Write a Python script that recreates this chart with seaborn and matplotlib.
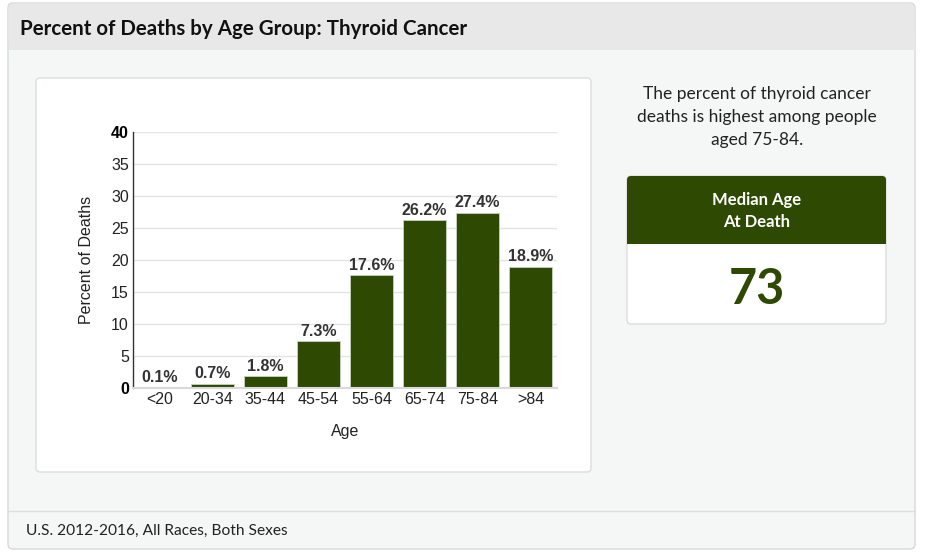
import matplotlib
matplotlib.use('Agg')
import matplotlib.pyplot as plt
import seaborn as sns
from matplotlib.patches import FancyBboxPatch, Rectangle

# Data
ages = ['<20', '20-34', '35-44', '45-54', '55-64', '65-74', '75-84', '>84']
pct_deaths = [0.1, 0.7, 1.8, 7.3, 17.6, 26.2, 27.4, 18.9]
y_ticks = [0, 5, 10, 15, 20, 25, 30, 35, 40]
median_age = 73

green = '#2e4a02'
W, H = 925, 557

sns.set_theme(style='white')
plt.rcParams['font.family'] = ['Liberation Sans', 'DejaVu Sans']

fig = plt.figure(figsize=(W / 100, H / 100), dpi=100)
fig.patch.set_facecolor('white')

# background layer in pixel coordinates
bg = fig.add_axes([0, 0, 1, 1], zorder=0)
bg.set_xlim(0, W)
bg.set_ylim(H, 0)
bg.axis('off')

# outer panel
bg.add_patch(FancyBboxPatch((8, 3), 907, 546, boxstyle='round,pad=0,rounding_size=5',
                            fc='#f5f7f6', ec='#d6d9d7', lw=1))
# header band
bg.add_patch(FancyBboxPatch((8.5, 3.5), 906, 46, boxstyle='round,pad=0,rounding_size=5',
                            fc='#e8e8e8', ec='none'))
bg.add_patch(Rectangle((8.5, 30), 906, 20, fc='#e8e8e8', ec='none'))
bg.plot([8, 915], [511, 511], color='#dcdedd', lw=1)

hfont = ['Lato', 'DejaVu Sans']
bg.text(20, 29, 'Percent of Deaths by Age Group: Thyroid Cancer', fontsize=14.8,
        fontweight='bold', family=hfont, color='#111111', va='center')
bg.text(26, 531, 'U.S. 2012-2016, All Races, Both Sexes', fontsize=11.2,
        family=hfont, color='#222222', va='center')

# chart card
bg.add_patch(FancyBboxPatch((36, 78), 555, 394, boxstyle='round,pad=0,rounding_size=4',
                            fc='white', ec='#dcdedd', lw=1))

# right side note
bg.text(757, 117, 'The percent of thyroid cancer\ndeaths is highest among people\naged 75-84.',
        fontsize=12.5, family=hfont, color='#222222', ha='center', va='center',
        linespacing=1.5)

# median age card
bg.add_patch(FancyBboxPatch((627, 176), 259, 148, boxstyle='round,pad=0,rounding_size=4',
                            fc='white', ec='#dcdedd', lw=1))
bg.add_patch(FancyBboxPatch((627, 176), 259, 68, boxstyle='round,pad=0,rounding_size=4',
                            fc=green, ec='none'))
bg.add_patch(Rectangle((627, 220), 259, 24, fc=green, ec='none'))
bg.text(757, 211, 'Median Age\nAt Death', fontsize=12, fontweight='bold', family=hfont,
        color='white', ha='center', va='center', linespacing=1.5)
bg.text(757, 289, str(median_age), fontsize=35, fontweight='bold', family=hfont,
        color=green, ha='center', va='center')

# bar chart
left, right, top, bottom = 133, 557, 132, 388
ax = fig.add_axes([left / W, (H - bottom) / H, (right - left) / W, (bottom - top) / H], zorder=1)
ax.set_facecolor('none')
sns.barplot(x=ages, y=pct_deaths, color=green, width=0.8, edgecolor='#c9d3bd',
            linewidth=0.6, saturation=1, ax=ax)
ax.set_ylim(0, 40)
ax.set_xlim(-0.5, len(ages) - 0.5)
ax.set_yticks(y_ticks)
ax.yaxis.grid(True, color='#e3e3e3', lw=1)
ax.set_axisbelow(True)
for s in ['top', 'right']:
    ax.spines[s].set_visible(False)
ax.spines['left'].set_color('#333333')
ax.spines['left'].set_linewidth(1)
ax.spines['bottom'].set_color('#d9d9d9')
ax.spines['bottom'].set_linewidth(1.5)
ax.tick_params(axis='both', length=0, labelsize=11.5, colors='#222222', pad=3)
for lbl in ax.get_yticklabels():
    if lbl.get_text() in ('0', '40'):
        lbl.set_fontweight('bold')
        lbl.set_color('#000000')

ax.bar_label(ax.containers[0], labels=[f'{v}%' for v in pct_deaths], fontsize=11.5,
             fontweight='bold', color='#333333', padding=2)

ax.set_xlabel('Age', fontsize=11.5, color='#222222', labelpad=12)
ax.set_ylabel('Percent of Deaths', fontsize=11.5, color='#222222', labelpad=12)

fig.savefig('out.png', dpi=100)
